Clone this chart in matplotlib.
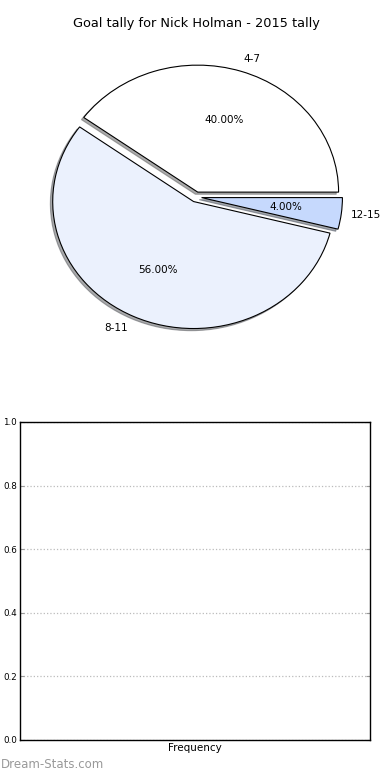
import matplotlib
matplotlib.use("Agg")
import matplotlib.pyplot as plt

# data
labels = ["4-7", "8-11", "12-15"]
shares = [40, 56, 4]
colors = ["#ffffff", "#ebf1fd", "#c6d9fd"]
explode = [0.04, 0.04, 0.04]
y_ticks = [0.0, 0.2, 0.4, 0.6, 0.8, 1.0]

fig = plt.figure(figsize=(3.9, 7.8), dpi=100)

# top: pie
ax1 = fig.add_axes([0.051, 0.544, 0.903, 0.407])
wedges, texts, autotexts = ax1.pie(
    shares, labels=labels, colors=colors, explode=explode,
    autopct="%1.2f%%", shadow={"ox": -0.012, "oy": -0.012, "shade": 0.65},
    startangle=0, counterclock=True,
    wedgeprops={"edgecolor": "black", "linewidth": 0.8},
    textprops={"fontsize": 7.5})
ax1.set_aspect("auto")
ax1.set_xlim(-1.25, 1.25)
ax1.set_ylim(-1.25, 1.25)
# small nudges so the labels sit where the reference has them
for t, dx in zip(texts, [-0.015, 0.0, -0.03]):
    x, y = t.get_position()
    t.set_position((x + dx, y))
ax1.set_title("Goal tally for Nick Holman - 2015 tally", fontsize=9.3, pad=8)

# bottom: empty frequency axes
ax2 = fig.add_axes([0.051, 0.0513, 0.897, 0.4077])
ax2.set_ylim(0, 1)
ax2.set_xlim(0, 1)
ax2.set_yticks(y_ticks)
ax2.set_yticklabels([f"{v:.1f}" for v in y_ticks])
ax2.set_xticks([])
ax2.tick_params(axis="y", labelsize=6.3, direction="in", length=3,
                color="#999999", right=True, pad=2)
ax2.yaxis.grid(True, linestyle=":", color="#bbbbbb", linewidth=0.9)
ax2.set_xlabel("Frequency", fontsize=7.5, labelpad=2)
for s in ax2.spines.values():
    s.set_linewidth(1.0)

fig.text(0.003, 0.012, "Dream-Stats.com", fontsize=8.5, color="#999999",
         ha="left", va="bottom")

fig.savefig("out.png", dpi=100)
